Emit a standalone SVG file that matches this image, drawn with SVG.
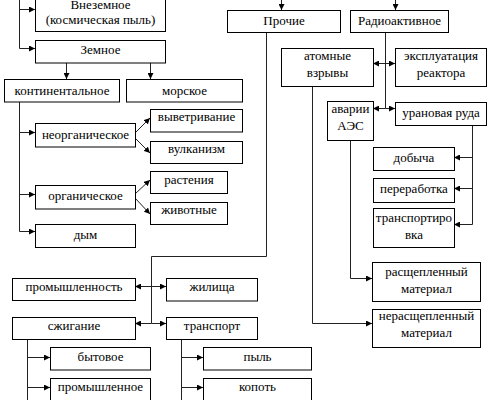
<svg xmlns="http://www.w3.org/2000/svg" width="491" height="400" viewBox="0 0 491 400">
<defs>
<marker id="ah" markerUnits="userSpaceOnUse" markerWidth="7" markerHeight="6" refX="6" refY="3" orient="auto">
<path d="M0,0 L6,3 L0,6 z" fill="#000"/>
</marker>
<style>
rect{fill:#fff;stroke:#000;stroke-width:1}
text{font-family:'Liberation Serif','Times New Roman',serif;font-size:13px;fill:#000;text-anchor:middle}
.c path{fill:none;stroke:#222;stroke-width:1}
.c .a{marker-end:url(#ah)}
</style>
</defs>
<rect x="0" y="0" width="491" height="400" style="fill:#fff;stroke:none"/>
<g class="c" id="connectors">
<path d="M19.5,0 V48.5"/>
<path class="a" d="M19.5,9.5 H35"/>
<path class="a" d="M19.5,48.5 H35"/>
<path class="a" d="M66.5,63 V79"/>
<path class="a" d="M150.5,63 V79"/>
<path d="M19.5,102 V231.5"/>
<path class="a" d="M19.5,132.5 H35"/>
<path class="a" d="M19.5,194.5 H35"/>
<path class="a" d="M19.5,231.5 H35"/>
<path class="a" d="M135,133 L150,118"/>
<path class="a" d="M135,138 L150,153"/>
<path class="a" d="M135,194 L150,180"/>
<path class="a" d="M135,198 L150,214"/>
<path class="a" d="M281.5,0 V10"/>
<path class="a" d="M395.5,0 V10"/>
<path d="M266.5,32 V256.5 H151.5 V323.5"/>
<path class="a" d="M151.5,286.5 H135"/>
<path class="a" d="M151.5,286.5 H166"/>
<path class="a" d="M151.5,323.5 H135"/>
<path class="a" d="M151.5,323.5 H166"/>
<path d="M27.5,339 V400"/>
<path class="a" d="M27.5,357.5 H50"/>
<path class="a" d="M27.5,387.5 H50"/>
<path d="M181.5,339 V400"/>
<path class="a" d="M181.5,357.5 H203"/>
<path class="a" d="M181.5,387.5 H203"/>
<path d="M385.5,32 V108.5"/>
<path class="a" d="M385.5,63.5 H373"/>
<path class="a" d="M385.5,63.5 H395"/>
<path class="a" d="M385.5,108.5 H373"/>
<path class="a" d="M385.5,108.5 H395"/>
<path class="a" d="M312.5,86 V323.5 H372"/>
<path class="a" d="M350.5,140 V278.5 H372"/>
<path d="M472.5,125 V224.5"/>
<path class="a" d="M472.5,157.5 H454"/>
<path class="a" d="M472.5,188.5 H454"/>
<path class="a" d="M472.5,224.5 H454"/>
</g>
<g font-family="Liberation Serif, serif" font-size="13">
<g id="vnezemnoe"><rect x="35.5" y="-10.5" width="130" height="42"/><text x="100.5" y="9">Внеземное</text><text x="100.5" y="24">(космическая пыль)</text></g>
<g id="zemnoe"><rect x="35.5" y="40.5" width="130" height="22.5"/><text x="100.5" y="54">Земное</text></g>
<g id="kontinentalnoe"><rect x="4.5" y="79.5" width="115" height="22.5"/><text x="62" y="95">континентальное</text></g>
<g id="morskoe"><rect x="126.5" y="79.5" width="116" height="22.5"/><text x="184.5" y="95">морское</text></g>
<g id="neorganicheskoe"><rect x="35.5" y="123.5" width="100" height="23.5"/><text x="85.5" y="139">неорганическое</text></g>
<g id="vyvetrivanie"><rect x="150.5" y="109.5" width="92" height="22.5"/><text x="196.5" y="121">выветривание</text></g>
<g id="vulkanizm"><rect x="150.5" y="141.5" width="92" height="22"/><text x="196.5" y="153">вулканизм</text></g>
<g id="rastenia"><rect x="150.5" y="171.5" width="77" height="22"/><text x="189" y="184">растения</text></g>
<g id="zhivotnye"><rect x="150.5" y="202.5" width="77" height="22"/><text x="189" y="214">животные</text></g>
<g id="organicheskoe"><rect x="35.5" y="185.5" width="100" height="23.5"/><text x="85.5" y="200">органическое</text></g>
<g id="dym"><rect x="35.5" y="224.5" width="100" height="23"/><text x="85.5" y="239">дым</text></g>
<g id="prochie"><rect x="227.5" y="10.5" width="113" height="22"/><text x="284" y="25">Прочие</text></g>
<g id="radioaktivnoe"><rect x="350.5" y="10.5" width="98" height="22"/><text x="399.5" y="25">Радиоактивное</text></g>
<g id="atomnye"><rect x="281.5" y="48.5" width="92" height="38"/><text x="327.5" y="60">атомные</text><text x="327.5" y="77">взрывы</text></g>
<g id="ekspluatacia"><rect x="395.5" y="48.5" width="91" height="38"/><text x="441" y="60">эксплуатация</text><text x="441" y="77">реактора</text></g>
<g id="avarii"><rect x="327.5" y="101.5" width="46" height="39"/><text x="350.5" y="113">аварии</text><text x="350.5" y="130">АЭС</text></g>
<g id="uranovaya"><rect x="395.5" y="102.5" width="91" height="23"/><text x="441" y="117">урановая руда</text></g>
<g id="dobycha"><rect x="373.5" y="147.5" width="81" height="23"/><text x="414" y="162">добыча</text></g>
<g id="pererabotka"><rect x="373.5" y="178.5" width="81" height="24"/><text x="414" y="193">переработка</text></g>
<g id="transportirovka"><rect x="373.5" y="208.5" width="81" height="39"/><text x="414" y="222">транспортиро</text><text x="414" y="239">вка</text></g>
<g id="rasshcheplenny"><rect x="372.5" y="262.5" width="108" height="39"/><text x="426.5" y="276">расщепленный</text><text x="426.5" y="293">материал</text></g>
<g id="nerasshcheplenny"><rect x="372.5" y="309.5" width="108" height="38"/><text x="426.5" y="320">нерасщепленный</text><text x="426.5" y="337">материал</text></g>
<g id="promyshlennost"><rect x="12.5" y="278.5" width="123" height="22"/><text x="74" y="291">промышленность</text></g>
<g id="zhilishcha"><rect x="166.5" y="278.5" width="91" height="22.5"/><text x="212" y="291">жилища</text></g>
<g id="szhiganie"><rect x="12.5" y="317.5" width="123" height="22"/><text x="74" y="330">сжигание</text></g>
<g id="transport"><rect x="166.5" y="317.5" width="91" height="22"/><text x="212" y="330">транспорт</text></g>
<g id="bytovoe"><rect x="50.5" y="347.5" width="100" height="22.5"/><text x="100.5" y="361">бытовое</text></g>
<g id="promyshlennoe"><rect x="50.5" y="378.5" width="100" height="24"/><text x="100.5" y="391">промышленное</text></g>
<g id="pyl"><rect x="203.5" y="347.5" width="108" height="22.5"/><text x="257.5" y="361">пыль</text></g>
<g id="kopot"><rect x="203.5" y="378.5" width="108" height="24"/><text x="257.5" y="391">копоть</text></g>
</g>
</svg>
